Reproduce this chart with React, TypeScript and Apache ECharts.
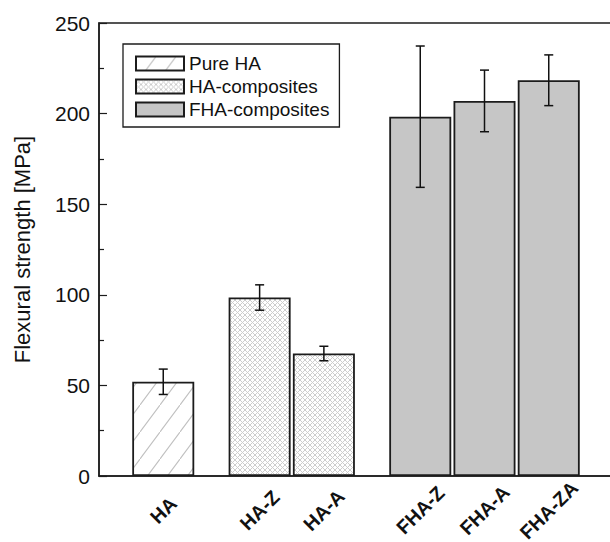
import React, { useEffect, useRef } from "react";
import * as echarts from "echarts";

// Samples, their material group, slot on the x axis and measured strength
const categories = ["HA", "HA-Z", "HA-A", "FHA-Z", "FHA-A", "FHA-ZA"];
const groups = ["Pure HA", "HA-composites", "HA-composites", "FHA-composites", "FHA-composites", "FHA-composites"];
const slots = [0, 1.5, 2.5, 4, 5, 6];
const means = [52, 98.5, 67.6, 198.3, 207, 218.4];
const errors = [7, 7, 4, 39, 17, 14];
const legendNames = ["Pure HA", "HA-composites", "FHA-composites"];
const yTicks = [0, 50, 100, 150, 200, 250];

const FONT = "'Liberation Sans', Arial, Helvetica, sans-serif";
const INK = "#1c1c1c";

// Repeating fill tile drawn on a canvas, used as an image pattern
function tile(w: number, h: number, draw: (ctx: CanvasRenderingContext2D) => void) {
  const c = document.createElement("canvas");
  c.width = w;
  c.height = h;
  const ctx = c.getContext("2d")!;
  ctx.fillStyle = "#ffffff";
  ctx.fillRect(0, 0, w, h);
  draw(ctx);
  return { image: c, repeat: "repeat", imageWidth: w, imageHeight: h } as any;
}

// Line from the bottom-left to the top-right corner, extended past the tile
// edges (with the wrapped corner pieces) so neighbouring tiles join up
function rising(ctx: CanvasRenderingContext2D, w: number, h: number) {
  const k = 3;
  const dy = (k * h) / w;
  ctx.beginPath();
  for (const [ox, oy] of [[0, 0], [-w, h], [w, -h]]) {
    ctx.moveTo(ox - k, oy + h + dy);
    ctx.lineTo(ox + w + k, oy - dy);
  }
  ctx.stroke();
}

export default function App() {
  const ref = useRef<HTMLDivElement>(null);

  useEffect(() => {
    if (!ref.current) return;
    const chart = echarts.init(ref.current, null, { renderer: "svg" });

    const hatch = tile(20, 27, (ctx) => {
      ctx.strokeStyle = "#c0c0c0";
      ctx.lineWidth = 1.1;
      rising(ctx, 20, 27);
    });
    const cross = tile(5, 5, (ctx) => {
      ctx.strokeStyle = "#cdcdcd";
      ctx.lineWidth = 1;
      rising(ctx, 5, 5);
      ctx.save();
      ctx.translate(5, 0);
      ctx.scale(-1, 1);
      rising(ctx, 5, 5);
      ctx.restore();
    });
    const fills: Record<string, any> = {
      "Pure HA": hatch,
      "HA-composites": cross,
      "FHA-composites": "#c6c6c6",
    };

    const barSeries = legendNames.map((name) => ({
      name,
      type: "bar",
      barWidth: 62,
      barGap: "-100%",
      itemStyle: { color: fills[name], borderColor: INK, borderWidth: 1.8 },
      data: categories
        .map((_, i) => i)
        .filter((i) => groups[i] === name)
        .map((i) => [slots[i], means[i]]),
      z: 2,
    }));

    const errorSeries = {
      name: "error",
      type: "custom",
      z: 5,
      encode: { x: 0, y: [1, 2] },
      data: categories.map((_, i) => [slots[i], means[i] - errors[i], means[i] + errors[i]]),
      renderItem: (_params: any, api: any) => {
        const x = api.value(0);
        const top = api.coord([x, api.value(2)]);
        const bot = api.coord([x, api.value(1)]);
        const hw = 4.5;
        const st = { stroke: "#111", lineWidth: 1.5 };
        return {
          type: "group",
          children: [
            { type: "line", shape: { x1: top[0], y1: top[1], x2: bot[0], y2: bot[1] }, style: st },
            { type: "line", shape: { x1: top[0] - hw, y1: top[1], x2: top[0] + hw, y2: top[1] }, style: st },
            { type: "line", shape: { x1: bot[0] - hw, y1: bot[1], x2: bot[0] + hw, y2: bot[1] }, style: st },
          ],
        };
      },
    };

    chart.setOption({
      animation: false,
      backgroundColor: "#ffffff",
      grid: {
        left: 99,
        right: -3,
        top: 23,
        bottom: 66,
        outerBoundsMode: "none",
        containLabel: false,
        show: true,
        borderColor: INK,
        borderWidth: 1.5,
        backgroundColor: "transparent",
      },
      legend: {
        data: legendNames,
        orient: "vertical",
        left: 123,
        top: 44,
        padding: [10, 10, 8, 12],
        itemWidth: 48,
        itemHeight: 14,
        itemGap: 4,
        borderColor: INK,
        borderWidth: 1.3,
        icon: "rect",
        textStyle: { fontFamily: FONT, fontSize: 19, color: "#111" },
      },
      xAxis: {
        type: "value",
        min: -1,
        max: 7,
        interval: 0.5,
        splitLine: { show: false },
        axisTick: { show: false },
        axisLine: { onZero: false, lineStyle: { color: INK, width: 1.5 } },
        axisLabel: {
          rotate: 45,
          align: "center",
          verticalAlign: "middle",
          margin: 34,
          fontFamily: FONT,
          fontSize: 19.5,
          fontWeight: "bold",
          color: "#111",
          formatter: (v: number) => {
            const i = slots.findIndex((s) => Math.abs(s - v) < 1e-6);
            return i >= 0 ? categories[i] : "";
          },
        },
      },
      yAxis: {
        type: "value",
        min: yTicks[0],
        max: yTicks[yTicks.length - 1],
        interval: yTicks[1] - yTicks[0],
        name: "Flexural strength [MPa]",
        nameLocation: "middle",
        nameGap: 66,
        nameTextStyle: { fontFamily: FONT, fontSize: 22, color: "#111" },
        splitLine: { show: false },
        axisLine: { show: true, onZero: false, lineStyle: { color: INK, width: 1.5 } },
        axisTick: { inside: true, length: 8, lineStyle: { color: INK, width: 1.2 } },
        minorTick: { show: true, splitNumber: 2, length: 5, lineStyle: { color: INK, width: 1.2 } },
        axisLabel: { margin: 9, fontFamily: FONT, fontSize: 21, color: "#111" },
      },
      series: [...barSeries, errorSeries],
    });

    return () => chart.dispose();
  }, []);

  return (
    <div
      ref={ref}
      style={{ position: "absolute", left: 0, top: 0, width: 610, height: 542 }}
    />
  );
}
